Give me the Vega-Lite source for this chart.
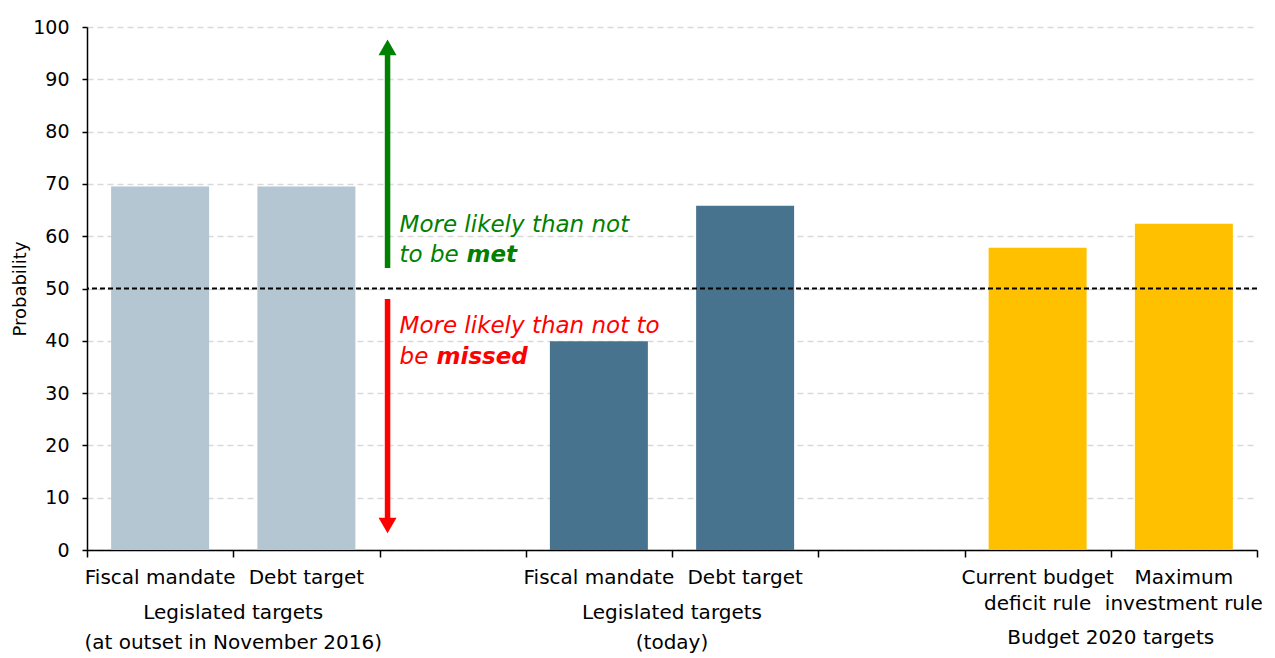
{
  "$schema": "https://vega.github.io/schema/vega-lite/v6.json",
  "width": 1170,
  "height": 523,
  "autosize": "none",
  "padding": {"left": 87, "top": 27, "right": 18, "bottom": 108},
  "background": "white",
  "config": {"view": {"stroke": null}, "font": "DejaVu Sans"},
  "data": {"values": [{}]},
  "datasets": {
    "bars": [
      {"key": "k1", "label": "Fiscal mandate", "series": "Legislated (outset)", "value": 69.5},
      {"key": "k2", "label": "Debt target", "series": "Legislated (outset)", "value": 69.5},
      {"key": "k4", "label": "Fiscal mandate", "series": "Legislated (today)", "value": 39.9},
      {"key": "k5", "label": "Debt target", "series": "Legislated (today)", "value": 65.8},
      {"key": "k7", "label": "Current budget\ndeficit rule", "series": "Budget 2020", "value": 57.8},
      {"key": "k8", "label": "Maximum\ninvestment rule", "series": "Budget 2020", "value": 62.4}
    ],
    "groups": [
      {"key": "k1", "tier": "upper", "text": "Legislated targets\n(at outset in November 2016)"},
      {"key": "k4", "tier": "upper", "text": "Legislated targets\n(today)"},
      {"key": "k7", "tier": "lower", "text": "Budget 2020 targets"}
    ]
  },
  "layer": [
    {
      "data": {"name": "bars"},
      "mark": {"type": "bar", "width": {"band": 0.67}},
      "encoding": {
        "x": {
          "field": "key", "type": "nominal",
          "scale": {"domain": ["k1","k2","k3","k4","k5","k6","k7","k8"], "paddingInner": 0, "paddingOuter": 0},
          "axis": {"labels": false, "title": null, "domainColor": "black", "domainWidth": 1.5, "tickColor": "black", "tickWidth": 1.5, "tickSize": 7, "tickBand": "extent", "grid": false}
        },
        "y": {
          "field": "value", "type": "quantitative",
          "scale": {"domain": [0, 100]},
          "axis": {"title": "Probability", "titleFontSize": 18, "titleFontWeight": "normal", "titleColor": "black", "titlePadding": 3,
                   "values": [0,10,20,30,40,50,60,70,80,90,100], "labelFontSize": 19, "labelColor": "black", "labelPadding": 13,
                   "tickSize": 5, "tickColor": "black", "tickWidth": 1.5, "domainColor": "black", "domainWidth": 1.5,
                   "gridColor": "#d9d9d9", "gridDash": [6, 4], "gridWidth": 1.5}
        },
        "color": {
          "field": "series", "type": "nominal",
          "scale": {"domain": ["Legislated (outset)", "Legislated (today)", "Budget 2020"], "range": ["#B4C6D1", "#47738F", "#FFC000"]},
          "legend": null
        }
      }
    },
    {
      "mark": {"type": "rule", "color": "black", "strokeWidth": 1.8, "strokeDash": [5, 3]},
      "encoding": {"y": {"datum": 50}}
    },
    {
      "data": {"name": "bars"},
      "mark": {"type": "text", "baseline": "top", "dy": 18, "fontSize": 20, "lineBreak": "\n", "lineHeight": 26, "color": "black"},
      "encoding": {"x": {"field": "key", "type": "nominal"}, "y": {"datum": 0}, "text": {"field": "label"}}
    },
    {
      "data": {"name": "groups"},
      "transform": [{"filter": "datum.tier === 'upper'"}],
      "mark": {"type": "text", "baseline": "top", "dy": 53, "fontSize": 20, "lineBreak": "\n", "lineHeight": 30, "color": "black"},
      "encoding": {"x": {"field": "key", "type": "nominal", "bandPosition": 1}, "y": {"datum": 0}, "text": {"field": "text"}}
    },
    {
      "data": {"name": "groups"},
      "transform": [{"filter": "datum.tier === 'lower'"}],
      "mark": {"type": "text", "baseline": "top", "dy": 78, "fontSize": 20, "color": "black"},
      "encoding": {"x": {"field": "key", "type": "nominal", "bandPosition": 1}, "y": {"datum": 0}, "text": {"field": "text"}}
    },
    {
      "mark": {"type": "rule", "color": "#008000", "strokeWidth": 5.5},
      "encoding": {"x": {"datum": "k3", "bandPosition": 0.055}, "y": {"datum": 53.9}, "y2": {"datum": 95}}
    },
    {
      "mark": {"type": "point", "shape": "triangle-up", "filled": true, "opacity": 1, "size": 324, "color": "#008000"},
      "encoding": {"x": {"datum": "k3", "bandPosition": 0.055}, "y": {"datum": 96.1}}
    },
    {
      "mark": {"type": "rule", "color": "#FF0000", "strokeWidth": 5.5},
      "encoding": {"x": {"datum": "k3", "bandPosition": 0.055}, "y": {"datum": 48.0}, "y2": {"datum": 6}}
    },
    {
      "mark": {"type": "point", "shape": "triangle-down", "filled": true, "opacity": 1, "size": 324, "color": "#FF0000"},
      "encoding": {"x": {"datum": "k3", "bandPosition": 0.055}, "y": {"datum": 4.7}}
    },
    {
      "mark": {"type": "text", "text": "More likely than not", "align": "left", "baseline": "middle", "fontSize": 23, "fontStyle": "italic", "color": "#008000"},
      "encoding": {"x": {"datum": "k3", "bandPosition": 0.137}, "y": {"datum": 62.1}}
    },
    {
      "mark": {"type": "text", "text": "to be", "align": "left", "baseline": "middle", "fontSize": 23, "fontStyle": "italic", "color": "#008000"},
      "encoding": {"x": {"datum": "k3", "bandPosition": 0.137}, "y": {"datum": 56.4}}
    },
    {
      "mark": {"type": "text", "text": "met", "align": "left", "baseline": "middle", "fontSize": 23, "fontStyle": "italic", "fontWeight": "bold", "color": "#008000", "dx": 67},
      "encoding": {"x": {"datum": "k3", "bandPosition": 0.137}, "y": {"datum": 56.4}}
    },
    {
      "mark": {"type": "text", "text": "More likely than not to", "align": "left", "baseline": "middle", "fontSize": 23, "fontStyle": "italic", "color": "#FF0000"},
      "encoding": {"x": {"datum": "k3", "bandPosition": 0.137}, "y": {"datum": 42.8}}
    },
    {
      "mark": {"type": "text", "text": "be", "align": "left", "baseline": "middle", "fontSize": 23, "fontStyle": "italic", "color": "#FF0000"},
      "encoding": {"x": {"datum": "k3", "bandPosition": 0.137}, "y": {"datum": 36.9}}
    },
    {
      "mark": {"type": "text", "text": "missed", "align": "left", "baseline": "middle", "fontSize": 23, "fontStyle": "italic", "fontWeight": "bold", "color": "#FF0000", "dx": 37},
      "encoding": {"x": {"datum": "k3", "bandPosition": 0.137}, "y": {"datum": 36.9}}
    }
  ]
}
